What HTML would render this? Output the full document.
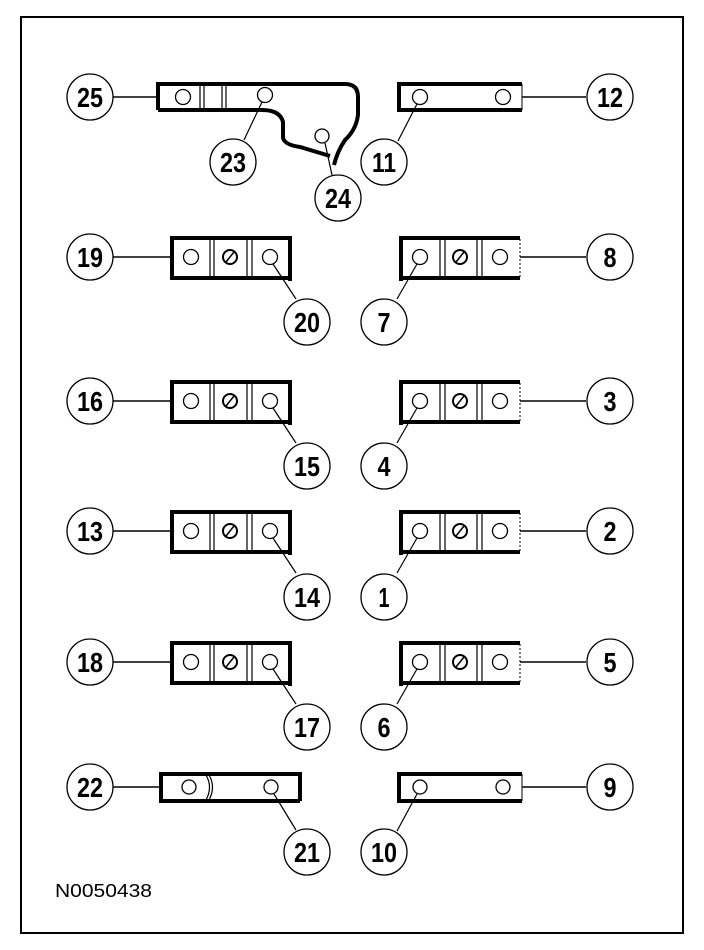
<!DOCTYPE html>
<html><head><meta charset="utf-8"><style>
html,body{margin:0;padding:0;background:#fff}
svg{display:block}
text{font-family:"Liberation Sans",sans-serif;font-size:28px;text-anchor:middle;fill:#000}
</style></head><body>
<svg width="704" height="950" viewBox="0 0 704 950" xmlns="http://www.w3.org/2000/svg">
<rect x="21" y="17" width="662" height="916" fill="none" stroke="#000" stroke-width="2"/>
<defs>
<g id="L">
<line x1="113" y1="0" x2="172" y2="0" stroke="#000" stroke-width="1.5"/>
<path d="M290,-19 H172 V21 H290" fill="#fff" stroke="#000" stroke-width="4"/>
<line x1="290" y1="-21" x2="290" y2="24" stroke="#000" stroke-width="4"/>
<line x1="210" y1="-18" x2="210" y2="20" stroke="#000" stroke-width="1.2"/>
<line x1="214" y1="-18" x2="214" y2="20" stroke="#000" stroke-width="1.2"/>
<line x1="247" y1="-18" x2="247" y2="20" stroke="#000" stroke-width="1.2"/>
<line x1="252" y1="-18" x2="252" y2="20" stroke="#000" stroke-width="1.2"/>
<circle cx="191" cy="0" r="7.5" fill="none" stroke="#000" stroke-width="1.3"/>
<circle cx="230" cy="0" r="7" fill="none" stroke="#000" stroke-width="2"/>
<line x1="226" y1="5" x2="234" y2="-5" stroke="#000" stroke-width="1.5"/>
<circle cx="270" cy="0" r="7.5" fill="none" stroke="#000" stroke-width="1.3"/>
<line x1="273" y1="7" x2="296" y2="42" stroke="#000" stroke-width="1.2"/>
</g>
<g id="R">
<line x1="520" y1="0" x2="586" y2="0" stroke="#000" stroke-width="1.5"/>
<path d="M520,-19 H401 V21 H520" fill="#fff" stroke="#000" stroke-width="4"/>
<line x1="401" y1="-21" x2="401" y2="24" stroke="#000" stroke-width="4"/>
<line x1="520" y1="-18" x2="520" y2="20" stroke="#000" stroke-width="1" stroke-dasharray="2,2"/>
<line x1="440" y1="-18" x2="440" y2="20" stroke="#000" stroke-width="1.2"/>
<line x1="445" y1="-18" x2="445" y2="20" stroke="#000" stroke-width="1.2"/>
<line x1="477" y1="-18" x2="477" y2="20" stroke="#000" stroke-width="1.2"/>
<line x1="482" y1="-18" x2="482" y2="20" stroke="#000" stroke-width="1.2"/>
<circle cx="420" cy="0" r="7.5" fill="none" stroke="#000" stroke-width="1.3"/>
<circle cx="460" cy="0" r="7" fill="none" stroke="#000" stroke-width="2"/>
<line x1="456" y1="5" x2="464" y2="-5" stroke="#000" stroke-width="1.5"/>
<circle cx="500" cy="0" r="7.5" fill="none" stroke="#000" stroke-width="1.3"/>
<line x1="417" y1="7" x2="397" y2="42" stroke="#000" stroke-width="1.2"/>
</g>
<g id="C"><circle r="23" fill="#fff" stroke="#000" stroke-width="1.3"/></g>
</defs>

<line x1="113" y1="97" x2="158" y2="97" stroke="#000" stroke-width="1.5"/>
<path d="M158,110 V84 H345 Q358,84 358,97 V115 Q356,130 345,140 Q337,152 334,165" fill="none" stroke="#000" stroke-width="4"/>
<path d="M158,110 H262 Q280,110 283,122 V138 Q285,145 300,147 L330,156" fill="none" stroke="#000" stroke-width="4"/>
<line x1="200" y1="85" x2="200" y2="109" stroke="#000" stroke-width="1.2"/>
<line x1="204" y1="85" x2="204" y2="109" stroke="#000" stroke-width="1.2"/>
<line x1="222" y1="85" x2="222" y2="109" stroke="#000" stroke-width="1.2"/>
<line x1="226" y1="85" x2="226" y2="109" stroke="#000" stroke-width="1.2"/>
<circle cx="183" cy="97" r="7.5" fill="none" stroke="#000" stroke-width="1.3"/>
<circle cx="265" cy="95" r="7.5" fill="none" stroke="#000" stroke-width="1.3"/>
<circle cx="322" cy="136" r="7" fill="none" stroke="#000" stroke-width="1.3"/>
<line x1="262" y1="102" x2="244" y2="140" stroke="#000" stroke-width="1.2"/>
<line x1="325" y1="143" x2="332" y2="175" stroke="#000" stroke-width="1.2"/>

<line x1="522" y1="97" x2="586" y2="97" stroke="#000" stroke-width="1.5"/>
<path d="M522,84 H399 V110 H522" fill="none" stroke="#000" stroke-width="4"/>
<line x1="522" y1="84" x2="522" y2="110" stroke="#000" stroke-width="1"/>
<circle cx="420" cy="97" r="7.5" fill="none" stroke="#000" stroke-width="1.3"/>
<circle cx="503" cy="97" r="7.5" fill="none" stroke="#000" stroke-width="1.3"/>
<line x1="417" y1="104" x2="398" y2="141" stroke="#000" stroke-width="1.2"/>

<use href="#L" y="257"/><use href="#R" y="257"/>
<use href="#L" y="401"/><use href="#R" y="401"/>
<use href="#L" y="531"/><use href="#R" y="531"/>
<use href="#L" y="662"/><use href="#R" y="662"/>

<line x1="113" y1="787" x2="161" y2="787" stroke="#000" stroke-width="1.5"/>
<path d="M300,801 V774 H161 V801 H300" fill="none" stroke="#000" stroke-width="4"/>
<path d="M206,775 Q213,787 206,800 M209,775 Q216,787 209,800" fill="none" stroke="#000" stroke-width="1.2"/>
<circle cx="189" cy="787" r="7" fill="none" stroke="#000" stroke-width="1.3"/>
<circle cx="271" cy="787" r="7" fill="none" stroke="#000" stroke-width="1.3"/>
<line x1="274" y1="794" x2="296" y2="830" stroke="#000" stroke-width="1.2"/>
<line x1="522" y1="787" x2="586" y2="787" stroke="#000" stroke-width="1.5"/>
<path d="M522,774 H399 V801 H522" fill="none" stroke="#000" stroke-width="4"/>
<line x1="522" y1="774" x2="522" y2="801" stroke="#000" stroke-width="1"/>
<circle cx="420" cy="787" r="7" fill="none" stroke="#000" stroke-width="1.3"/>
<circle cx="503" cy="787" r="7" fill="none" stroke="#000" stroke-width="1.3"/>
<line x1="417" y1="794" x2="397" y2="831" stroke="#000" stroke-width="1.2"/>

<g>
<use href="#C" x="90" y="97"/><use href="#C" x="610" y="97"/>
<use href="#C" x="233" y="162"/><use href="#C" x="384" y="162"/><use href="#C" x="338" y="198"/>
<use href="#C" x="90" y="257"/><use href="#C" x="610" y="257"/><use href="#C" x="307" y="322"/><use href="#C" x="384" y="322"/>
<use href="#C" x="90" y="401"/><use href="#C" x="610" y="401"/><use href="#C" x="307" y="466"/><use href="#C" x="384" y="466"/>
<use href="#C" x="90" y="531"/><use href="#C" x="610" y="531"/><use href="#C" x="307" y="597"/><use href="#C" x="384" y="597"/>
<use href="#C" x="90" y="662"/><use href="#C" x="610" y="662"/><use href="#C" x="307" y="727"/><use href="#C" x="384" y="727"/>
<use href="#C" x="90" y="787"/><use href="#C" x="610" y="787"/><use href="#C" x="307" y="852"/><use href="#C" x="384" y="852"/>
</g>
<g font-weight="bold" lengthAdjust="spacingAndGlyphs">
<text x="90" y="107" textLength="26" lengthAdjust="spacingAndGlyphs">25</text><text x="610" y="107" textLength="26" lengthAdjust="spacingAndGlyphs">12</text>
<text x="233" y="172" textLength="26" lengthAdjust="spacingAndGlyphs">23</text><text x="384" y="172" textLength="24" lengthAdjust="spacingAndGlyphs">11</text><text x="338" y="208" textLength="26" lengthAdjust="spacingAndGlyphs">24</text>
<text x="90" y="267" textLength="26" lengthAdjust="spacingAndGlyphs">19</text><text x="610" y="267" textLength="13" lengthAdjust="spacingAndGlyphs">8</text><text x="307" y="332" textLength="26" lengthAdjust="spacingAndGlyphs">20</text><text x="384" y="332" textLength="13" lengthAdjust="spacingAndGlyphs">7</text>
<text x="90" y="411" textLength="26" lengthAdjust="spacingAndGlyphs">16</text><text x="610" y="411" textLength="13" lengthAdjust="spacingAndGlyphs">3</text><text x="307" y="476" textLength="26" lengthAdjust="spacingAndGlyphs">15</text><text x="384" y="476" textLength="13" lengthAdjust="spacingAndGlyphs">4</text>
<text x="90" y="541" textLength="26" lengthAdjust="spacingAndGlyphs">13</text><text x="610" y="541" textLength="13" lengthAdjust="spacingAndGlyphs">2</text><text x="307" y="607" textLength="26" lengthAdjust="spacingAndGlyphs">14</text><text x="384" y="607" textLength="11" lengthAdjust="spacingAndGlyphs">1</text>
<text x="90" y="672" textLength="26" lengthAdjust="spacingAndGlyphs">18</text><text x="610" y="672" textLength="13" lengthAdjust="spacingAndGlyphs">5</text><text x="307" y="737" textLength="26" lengthAdjust="spacingAndGlyphs">17</text><text x="384" y="737" textLength="13" lengthAdjust="spacingAndGlyphs">6</text>
<text x="90" y="797" textLength="26" lengthAdjust="spacingAndGlyphs">22</text><text x="610" y="797" textLength="13" lengthAdjust="spacingAndGlyphs">9</text><text x="307" y="862" textLength="26" lengthAdjust="spacingAndGlyphs">21</text><text x="384" y="862" textLength="26" lengthAdjust="spacingAndGlyphs">10</text>
</g>
<text x="55" y="897" textLength="97" lengthAdjust="spacingAndGlyphs" style="font-size:18px;text-anchor:start">N0050438</text>
</svg>
</body></html>
